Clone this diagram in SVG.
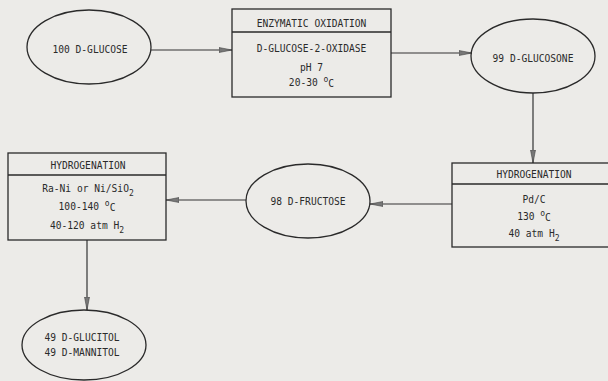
<svg xmlns="http://www.w3.org/2000/svg" width="608" height="381" viewBox="0 0 608 381">
<defs>
<marker id="ah" markerWidth="14" markerHeight="8" refX="13" refY="4" orient="auto" markerUnits="userSpaceOnUse">
<path d="M0,1.5 L13,4 L0,6.5 Z" fill="#777" stroke="#444" stroke-width="0.6"/>
</marker>
</defs>
<style>
.bg{fill:#ecebe8}
.n{fill:none;stroke:#2a2a2a;stroke-width:1.3}
.c{fill:none;stroke:#333;stroke-width:1.2;marker-end:url(#ah)}
text{font-family:"DejaVu Sans Mono","Liberation Mono",monospace;font-size:9.6px;fill:#2a2a2a;text-anchor:middle}
.sup{font-size:8px}
</style>
<rect class="bg" x="0" y="0" width="608" height="381"/>
<g id="connectors">
<line class="c" x1="151" y1="50" x2="232" y2="50"/>
<line class="c" x1="391" y1="53" x2="472" y2="53"/>
<line class="c" x1="533" y1="93" x2="533" y2="163"/>
<line class="c" x1="452" y1="204" x2="370" y2="204"/>
<line class="c" x1="246" y1="200" x2="166" y2="200"/>
<line class="c" x1="87" y1="240" x2="87" y2="310"/>
</g>
<g id="glucose">
<ellipse class="n" cx="89" cy="47" rx="62" ry="37"/>
<text x="90" y="53">100 D-GLUCOSE</text>
</g>
<g id="enzymatic-oxidation">
<rect class="n" x="232" y="9" width="159" height="88"/>
<line class="n" x1="232" y1="32" x2="391" y2="32"/>
<text x="311.5" y="26.5">ENZYMATIC OXIDATION</text>
<text x="311.5" y="51.5">D-GLUCOSE-2-OXIDASE</text>
<text x="311.5" y="70.5">pH 7</text>
<text x="311.5" y="86">20-30 <tspan class="sup" dy="-4">o</tspan><tspan dy="5">C</tspan></text>
</g>
<g id="glucosone">
<ellipse class="n" cx="533" cy="56" rx="62" ry="37"/>
<text x="533" y="61.5">99 D-GLUCOSONE</text>
</g>
<g id="hydrogenation-pd">
<rect class="n" x="452" y="163" width="164" height="84"/>
<line class="n" x1="452" y1="184" x2="616" y2="184"/>
<text x="534" y="177.5">HYDROGENATION</text>
<text x="534" y="202.5">Pd/C</text>
<text x="534" y="220">130 <tspan class="sup" dy="-4">o</tspan><tspan dy="5">C</tspan></text>
<text x="534" y="237">40 atm H<tspan class="sup" dy="4">2</tspan></text>
</g>
<g id="fructose">
<ellipse class="n" cx="308" cy="201" rx="62" ry="37"/>
<text x="308" y="204.5">98 D-FRUCTOSE</text>
</g>
<g id="hydrogenation-ni">
<rect class="n" x="8" y="153" width="158" height="87"/>
<line class="n" x1="8" y1="175" x2="166" y2="175"/>
<text x="88" y="168.5">HYDROGENATION</text>
<text x="88" y="191.5">Ra-Ni or Ni/SiO<tspan class="sup" dy="4">2</tspan></text>
<text x="87" y="210">100-140 <tspan class="sup" dy="-4">o</tspan><tspan dy="5">C</tspan></text>
<text x="87" y="228.5">40-120 atm H<tspan class="sup" dy="4">2</tspan></text>
</g>
<g id="glucitol-mannitol">
<ellipse class="n" cx="84" cy="345" rx="62" ry="35"/>
<text x="82" y="340.5">49 D-GLUCITOL</text>
<text x="82" y="355.5">49 D-MANNITOL</text>
</g>
</svg>
